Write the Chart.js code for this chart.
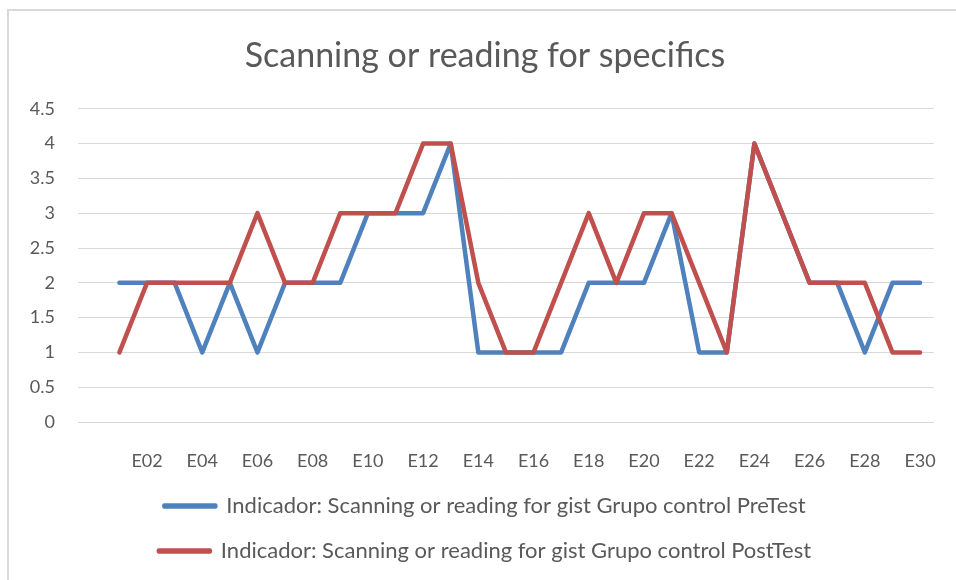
<!DOCTYPE html>
<html lang="en">
<head>
    <meta charset="UTF-8">
    <title>Scanning or reading for specifics</title>
    <script src="https://cdn.jsdelivr.net/npm/chart.js"></script>
    <style>
        body { margin: 0; background: white; }
        .wrap { position: relative; width: 956px; height: 580px; overflow: hidden; }
        .frame { position: absolute; left: 7px; top: 9px; width: 1000px; height: 600px;
                 border-left: 2px solid #d9d9d9; border-top: 2px solid #d9d9d9; pointer-events: none; }
    </style>
</head>
<body>
    <div class="wrap">
        <canvas id="lineChart" width="956" height="580"></canvas>
        <div class="frame"></div>
    </div>

    <script>
        // first category is empty, as in the source sheet
        const labels = ['', 'E01', 'E02', 'E03', 'E04', 'E05', 'E06', 'E07', 'E08', 'E09', 'E10',
            'E11', 'E12', 'E13', 'E14', 'E15', 'E16', 'E17', 'E18', 'E19', 'E20',
            'E21', 'E22', 'E23', 'E24', 'E25', 'E26', 'E27', 'E28', 'E29', 'E30'];
        const preTest = [null, 2, 2, 2, 1, 2, 1, 2, 2, 2, 3, 3, 3, 4, 1, 1, 1, 1, 2, 2, 2, 3, 1, 1, 4, 3, 2, 2, 1, 2, 2];
        const postTest = [null, 1, 2, 2, 2, 2, 3, 2, 2, 3, 3, 3, 4, 4, 2, 1, 1, 2, 3, 2, 3, 3, 2, 1, 4, 3, 2, 2, 2, 1, 1];
        const seriesNames = [
            'Indicador: Scanning or reading for gist Grupo control PreTest',
            'Indicador: Scanning or reading for gist Grupo control PostTest'
        ];

        const textColor = '#595959';
        const gridColor = '#d9d9d9';

        const ctx = document.getElementById('lineChart').getContext('2d');
        new Chart(ctx, {
            type: 'line',
            data: {
                labels: labels,
                datasets: [{
                    label: seriesNames[0],
                    data: preTest,
                    borderColor: '#4f81bd',
                    backgroundColor: '#4f81bd',
                    borderWidth: 4.5,
                    order: 1
                }, {
                    label: seriesNames[1],
                    data: postTest,
                    borderColor: '#c0504d',
                    backgroundColor: '#c0504d',
                    borderWidth: 4.5,
                    order: 0
                }]
            },
            options: {
                responsive: false,
                animation: false,
                layout: { padding: { left: 20, right: 6, top: 0, bottom: 8 } },
                elements: {
                    line: { tension: 0, borderCapStyle: 'round', borderJoinStyle: 'round' },
                    point: { radius: 0, hoverRadius: 0 }
                },
                plugins: {
                    title: {
                        display: true,
                        text: 'Scanning or reading for specifics',
                        color: textColor,
                        font: { family: 'Lato', size: 34, weight: 'normal' },
                        padding: { top: 36, bottom: 32 }
                    },
                    legend: {
                        position: 'bottom',
                        labels: {
                            color: textColor,
                            font: { family: 'Lato', size: 22 },
                            boxWidth: 51,
                            boxHeight: 1,
                            padding: 23,
                            sort: (a, b) => a.datasetIndex - b.datasetIndex
                        }
                    },
                    tooltip: { enabled: false }
                },
                scales: {
                    x: {
                        offset: true,
                        grid: { display: false },
                        border: { display: false },
                        ticks: {
                            color: textColor,
                            font: { family: 'Lato', size: 18 },
                            autoSkip: false,
                            maxRotation: 0,
                            padding: 20,
                            callback: function (v, i) { return i % 2 === 0 ? this.getLabelForValue(v) : ''; }
                        },
                        afterFit: s => { s.height = 50; }
                    },
                    y: {
                        min: 0,
                        max: 4.5,
                        grid: { color: gridColor, lineWidth: 1, drawTicks: false },
                        border: { display: false },
                        ticks: {
                            stepSize: 0.5,
                            color: textColor,
                            font: { family: 'Lato', size: 18 },
                            padding: 23,
                            callback: v => String(v)
                        },
                        afterFit: s => { s.width = 58; }
                    },
                    y2: {
                        position: 'right',
                        grid: { display: false },
                        border: { display: false },
                        ticks: { display: false },
                        afterFit: s => { s.width = 14; }
                    }
                }
            }
        });
    </script>
</body>
</html>
